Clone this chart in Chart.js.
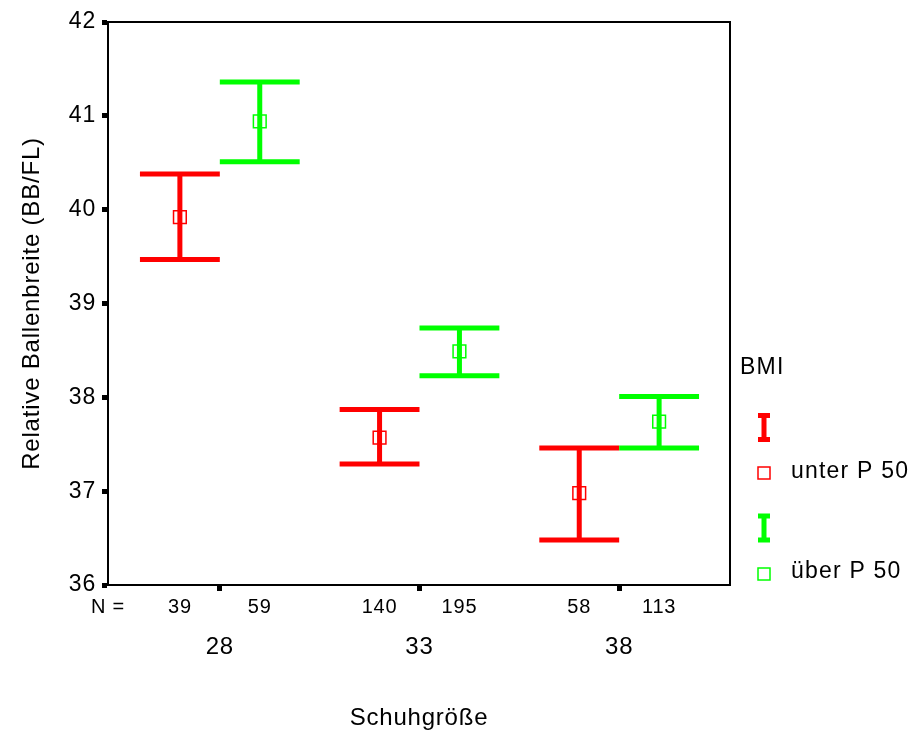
<!DOCTYPE html>
<html>
<head>
<meta charset="utf-8">
<script src="https://cdn.jsdelivr.net/npm/chart.js@4/dist/chart.umd.min.js"></script>
<style>
html,body{margin:0;padding:0;background:#ffffff;}
#wrap{width:914px;height:733px;position:relative;}
</style>
</head>
<body>
<div id="wrap"><canvas id="c" width="914" height="733"></canvas></div>
<script>
// ---- data ----
const groups = ['28', '33', '38'];
const seriesNames = ['unter P 50', 'über P 50'];
const meanUnter  = [39.92, 37.57, 36.98];
const lowerUnter = [39.47, 37.29, 36.48];
const upperUnter = [40.38, 37.87, 37.46];
const nUnter     = [39, 140, 58];
const meanUeber  = [40.94, 38.49, 37.74];
const lowerUeber = [40.51, 38.23, 37.46];
const upperUeber = [41.36, 38.74, 38.01];
const nUeber     = [59, 195, 113];
const yTicks = [36, 37, 38, 39, 40, 41, 42];
const legendTitle = 'BMI';
const xTitle = 'Schuhgröße';
const yTitle = 'Relative Ballenbreite (BB/FL)';
const nPrefix = 'N =';

// ---- layout constants ----
const RED = '#ff0000', GREEN = '#00ff00';
const X_MIN = -0.56, X_MAX = 2.555;
const OFFSET = 0.2, CAP = 0.2;
const FONT = "'Liberation Sans', Arial, Helvetica, sans-serif";
const near = (a, b) => Math.abs(a - b) < 1e-6;

const pts = (means, sign) => means.map((m, i) => ({x: i + sign * OFFSET, y: m}));

const errorBarPlugin = {
  id: 'errorBars',
  beforeDraw(chart) {
    chart.ctx.letterSpacing = '0.8px';
  },
  beforeDatasetsDraw(chart) {
    const ctx = chart.ctx, xs = chart.scales.x, ys = chart.scales.y;
    ctx.save();
    ctx.lineCap = 'butt';
    chart.data.datasets.forEach(ds => {
      ctx.strokeStyle = ds.borderColor;
      ctx.lineWidth = 5;
      ds.data.forEach((p, i) => {
        const px = xs.getPixelForValue(p.x);
        const hw = xs.getPixelForValue(p.x + CAP) - px;
        const yu = ys.getPixelForValue(ds.errUpper[i]);
        const yl = ys.getPixelForValue(ds.errLower[i]);
        ctx.beginPath();
        ctx.moveTo(px, yu); ctx.lineTo(px, yl);
        ctx.moveTo(px - hw, yu); ctx.lineTo(px + hw, yu);
        ctx.moveTo(px - hw, yl); ctx.lineTo(px + hw, yl);
        ctx.stroke();
      });
    });
    ctx.restore();
  },
  afterDraw(chart) {
    const ctx = chart.ctx, a = chart.chartArea;
    ctx.save();
    // frame top & right
    ctx.strokeStyle = '#000'; ctx.lineWidth = 2;
    ctx.beginPath();
    ctx.moveTo(a.left, a.top); ctx.lineTo(a.right, a.top); ctx.lineTo(a.right, a.bottom);
    ctx.stroke();
    // legend
    ctx.letterSpacing = '1.2px';
    ctx.font = '23px ' + FONT;
    ctx.fillStyle = '#000';
    ctx.textBaseline = 'middle';
    ctx.textAlign = 'left';
    const lx = a.right + 10;
    ctx.fillText(legendTitle, lx, 368);
    const gx = a.right + 34;
    const items = [
      {c: RED, iy: 427.5, sy: 473, ty: 472, t: seriesNames[0]},
      {c: GREEN, iy: 528, sy: 574, ty: 572, t: seriesNames[1]}
    ];
    items.forEach(it => {
      ctx.strokeStyle = it.c; ctx.lineWidth = 5;
      ctx.beginPath();
      ctx.moveTo(gx, it.iy - 12); ctx.lineTo(gx, it.iy + 12);
      ctx.moveTo(gx - 6, it.iy - 12); ctx.lineTo(gx + 6, it.iy - 12);
      ctx.moveTo(gx - 6, it.iy + 12); ctx.lineTo(gx + 6, it.iy + 12);
      ctx.stroke();
      ctx.lineWidth = 1.5;
      ctx.strokeRect(gx - 6, it.sy - 6, 12, 12);
      ctx.fillStyle = '#000';
      ctx.fillText(it.t, a.right + 61, it.ty);
    });
    ctx.restore();
  }
};

new Chart(document.getElementById('c'), {
  type: 'scatter',
  data: {
    datasets: [
      {label: seriesNames[0], data: pts(meanUnter, -1), errLower: lowerUnter, errUpper: upperUnter,
       borderColor: RED, backgroundColor: 'rgba(0,0,0,0)', pointStyle: 'rect', pointRadius: 9, borderWidth: 1.5},
      {label: seriesNames[1], data: pts(meanUeber, 1), errLower: lowerUeber, errUpper: upperUeber,
       borderColor: GREEN, backgroundColor: 'rgba(0,0,0,0)', pointStyle: 'rect', pointRadius: 9, borderWidth: 1.5}
    ]
  },
  options: {
    responsive: false,
    animation: false,
    events: [],
    devicePixelRatio: 1,
    layout: {padding: {top: 22, right: 184, bottom: 0, left: 0}},
    plugins: {legend: {display: false}, tooltip: {enabled: false}},
    scales: {
      x: {
        type: 'linear', position: 'bottom', weight: 0,
        min: X_MIN, max: X_MAX,
        afterBuildTicks(scale) {
          const t = [{value: X_MIN}];
          groups.forEach((g, i) => { t.push({value: i - OFFSET}, {value: i}, {value: i + OFFSET}); });
          scale.ticks = t;
        },
        afterFit(scale) { scale.height = 40; },
        border: {display: true, color: '#000', width: 2},
        grid: {
          display: true, drawOnChartArea: false, drawTicks: true, tickLength: 6,
          tickWidth: c => (c.tick && Number.isInteger(c.tick.value)) ? 5 : 1,
          tickColor: c => (c.tick && Number.isInteger(c.tick.value)) ? '#000' : 'rgba(0,0,0,0)'
        },
        ticks: {
          autoSkip: false, maxRotation: 0, minRotation: 0, padding: 4,
          color: '#000', font: {family: FONT, size: 20},
          callback(v) {
            if (near(v, X_MIN)) return nPrefix;
            for (let i = 0; i < groups.length; i++) {
              if (near(v, i - OFFSET)) return String(nUnter[i]);
              if (near(v, i + OFFSET)) return String(nUeber[i]);
            }
            return '';
          }
        }
      },
      xg: {
        type: 'linear', position: 'bottom', weight: 1,
        min: X_MIN, max: X_MAX,
        afterBuildTicks(scale) { scale.ticks = groups.map((g, i) => ({value: i})); },
        afterFit(scale) { scale.height = 108; },
        border: {display: false},
        grid: {display: false, drawTicks: false},
        ticks: {
          autoSkip: false, maxRotation: 0, minRotation: 0, padding: 8,
          color: '#000', font: {family: FONT, size: 24},
          callback(v) { const i = Math.round(v); return near(v, i) && groups[i] !== undefined ? groups[i] : ''; }
        },
        title: {display: true, text: xTitle, color: '#000', font: {family: FONT, size: 24}, padding: {top: 0, bottom: 0}}
      },
      y: {
        type: 'linear', position: 'left',
        min: yTicks[0], max: yTicks[yTicks.length - 1],
        afterBuildTicks(scale) { scale.ticks = yTicks.map(v => ({value: v})); },
        afterFit(scale) { scale.width = 108; },
        border: {display: true, color: '#000', width: 2},
        grid: {display: true, drawOnChartArea: false, drawTicks: true, tickLength: 6, tickWidth: 5, tickColor: '#000'},
        ticks: {padding: 6, color: '#000', font: {family: FONT, size: 23}},
        title: {display: true, text: yTitle, color: '#000', font: {family: FONT, size: 24}, padding: {top: 18, bottom: 0}}
      }
    }
  },
  plugins: [errorBarPlugin]
});
</script>
</body>
</html>
